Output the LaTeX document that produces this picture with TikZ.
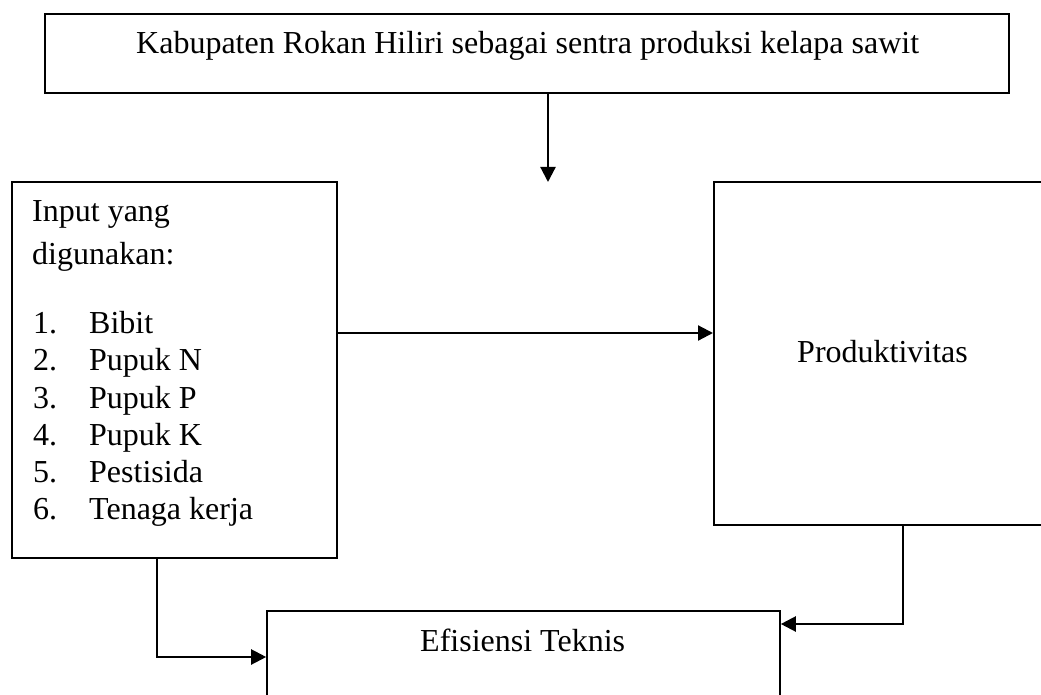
\documentclass[tikz,border=0pt]{standalone}
\usepackage{fontspec}
\setmainfont{Liberation Serif}
\usetikzlibrary{arrows.meta}
\tikzset{
  box/.style={draw=black, line width=2pt, rectangle, inner sep=0pt},
  txt/.style={inner sep=0pt, anchor=base west, font=\fontsize{32}{38}\selectfont},
  conn/.style={draw=black, line width=2.2pt, -{Triangle[length=15pt,width=15pt]}}
}
\begin{document}
\begin{tikzpicture}[x=1pt,y=-1pt]
\useasboundingbox[fill=white] (0,0) rectangle (1041,695);
\clip (0,0) rectangle (1041,695);
% boxes
\node[box, minimum width=964pt, minimum height=79pt] (top) at (527,53.5) {};
\node[box, minimum width=325pt, minimum height=376pt] (inp) at (174.5,370) {};
\node[box, minimum width=336pt, minimum height=343pt] (prod) at (882,353.5) {};
\node[box, line width=1.6pt, minimum width=513pt, minimum height=99pt] (eff) at (523.5,660.5) {};
% texts
\node[txt] (ttop) at (136,54) {Kabupaten Rokan Hiliri sebagai sentra produksi kelapa sawit};
\node[txt] (t1) at (32,222) {Input yang};
\node[txt] (t2) at (32,264) {digunakan:};
\node[txt] (n1) at (33,333) {1.};
\node[txt] (i1) at (89,333) {Bibit};
\node[txt] (n2) at (33,370) {2.};
\node[txt] (i2) at (89,370) {Pupuk N};
\node[txt] (n3) at (33,408) {3.};
\node[txt] (i3) at (89,408) {Pupuk P};
\node[txt] (n4) at (33,445) {4.};
\node[txt] (i4) at (89,445) {Pupuk K};
\node[txt] (n5) at (33,482) {5.};
\node[txt] (i5) at (89,482) {Pestisida};
\node[txt] (n6) at (33,519) {6.};
\node[txt] (i6) at (89,519) {Tenaga kerja};
\node[txt] (tprod) at (797,362) {Produktivitas};
\node[txt] (teff) at (420,651) {Efisiensi Teknis};
% helper coordinates
\coordinate (tipA) at (548,182);
\coordinate (my) at (0,333);
\coordinate (rc) at (903,0);
\coordinate (ry) at (0,624);
\coordinate (lc) at (157,0);
\coordinate (ly) at (0,657);
% connectors
\draw[conn] (tipA |- top.south) -- (tipA);
\draw[conn] (inp.east |- my) -- (prod.west |- my);
\draw[conn] (prod.south -| rc) |- (eff.east |- ry);
\draw[conn] (inp.south -| lc) |- (eff.west |- ly);
\end{tikzpicture}
\end{document}
